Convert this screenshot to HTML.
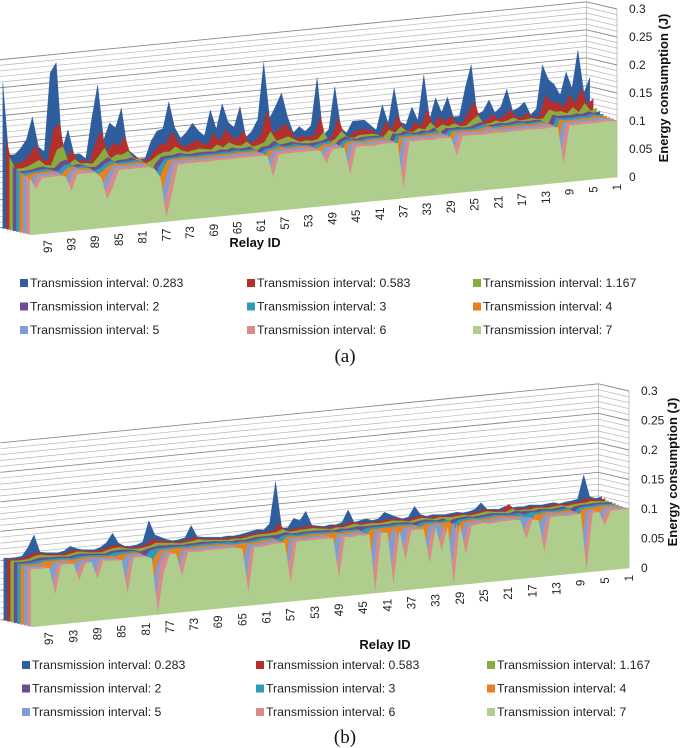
<!DOCTYPE html>
<html><head><meta charset="utf-8"><style>
html,body{margin:0;padding:0;background:#fff;}
svg{display:block;font-family:"Liberation Sans",sans-serif;}
</style></head><body>
<svg id="c" width="685" height="748" viewBox="0 0 685 748"></svg>
<script>
const relayIds = Array.from({length:100},(_,i)=>i+1);
const seriesNames = ["Transmission interval: 0.283","Transmission interval: 0.583","Transmission interval: 1.167","Transmission interval: 2","Transmission interval: 3","Transmission interval: 4","Transmission interval: 5","Transmission interval: 6","Transmission interval: 7"];
const yTicks = [0,0.05,0.1,0.15,0.2,0.25,0.3];
const yTickLabels = ["0","0.05","0.1","0.15","0.2","0.25","0.3"];
const xTickRelays = [1,5,9,13,17,21,25,29,33,37,41,45,49,53,57,61,65,69,73,77,81,85,89,93,97];

// Panel (a) values, index 0 = relay 1
const a_t0283=[.166,.14,.217,.15,.18,.14,.16,.17,.197,.12,.11,.134,.125,.12,.16,.13,.12,.144,.125,.12,.21,.17,.12,.12,.156,.13,.157,.12,.2,.12,.145,.115,.12,.182,.12,.154,.11,.12,.13,.13,.13,.11,.12,.195,.12,.11,.214,.13,.12,.13,.12,.15,.193,.17,.15,.25,.15,.13,.12,.176,.14,.15,.184,.14,.175,.13,.14,.155,.14,.13,.15,.197,.15,.147,.13,.1,.1,.11,.12,.194,.16,.17,.14,.24,.18,.11,.12,.12,.165,.13,.287,.27,.13,.14,.194,.155,.14,.13,.13,.26];
const a_t0583=[.13,.12,.15,.125,.14,.12,.13,.13,.145,.11,.105,.115,.11,.11,.125,.115,.11,.12,.11,.11,.145,.13,.11,.11,.125,.115,.125,.11,.14,.11,.12,.105,.11,.135,.11,.125,.1,.11,.115,.115,.115,.105,.11,.14,.11,.1,.145,.115,.11,.115,.11,.125,.14,.13,.125,.165,.125,.115,.11,.135,.12,.125,.14,.12,.135,.115,.12,.125,.12,.115,.125,.145,.125,.125,.115,.1,.1,.105,.11,.145,.13,.135,.12,.16,.135,.105,.11,.11,.13,.115,.18,.17,.115,.12,.145,.13,.12,.115,.115,.16];
const a_t1167=[.115,.11,.125,.11,.12,.11,.115,.115,.12,.105,.105,.108,.106,.106,.112,.108,.106,.11,.106,.106,.122,.115,.106,.106,.112,.108,.112,.106,.118,.106,.11,.104,.106,.116,.106,.112,.1,.106,.108,.108,.108,.104,.106,.118,.106,.1,.12,.108,.106,.108,.106,.112,.118,.115,.112,.13,.112,.108,.106,.116,.11,.112,.118,.11,.116,.108,.11,.112,.11,.108,.112,.12,.112,.112,.108,.1,.095,.104,.106,.12,.115,.116,.11,.13,.116,.104,.106,.106,.115,.108,.14,.135,.108,.11,.12,.115,.11,.108,.108,.13];
const a_t2=[.11,.108,.112,.108,.11,.108,.109,.109,.112,.09,.105,.106,.105,.105,.108,.106,.105,.107,.105,.105,.112,.109,.105,.105,.107,.106,.107,.1,.11,.105,.107,.104,.105,.109,.105,.107,.08,.105,.106,.106,.106,.104,.105,.11,.105,.095,.11,.106,.105,.104,.105,.107,.11,.108,.107,.115,.107,.106,.1,.109,.107,.107,.11,.107,.109,.106,.107,.107,.107,.106,.107,.11,.107,.107,.106,.095,.07,.1,.104,.11,.108,.108,.106,.115,.108,.1,.1,.104,.108,.106,.118,.115,.105,.106,.11,.108,.106,.105,.105,.115];
const a_t3=[.107,.106,.109,.106,.107,.106,.106,.106,.108,.08,.104,.105,.104,.104,.106,.105,.104,.105,.104,.104,.109,.107,.104,.104,.105,.105,.105,.095,.107,.104,.105,.103,.104,.106,.104,.105,.07,.104,.105,.105,.105,.103,.104,.107,.104,.09,.107,.105,.104,.1,.104,.105,.107,.106,.105,.11,.105,.104,.095,.106,.105,.105,.107,.105,.106,.105,.105,.105,.105,.104,.105,.107,.105,.105,.104,.09,.06,.098,.103,.107,.106,.106,.105,.11,.106,.098,.095,.103,.106,.105,.112,.11,.1,.104,.107,.106,.105,.104,.103,.11];
const a_t4=[.105,.104,.107,.104,.105,.104,.104,.104,.106,.07,.103,.104,.103,.103,.104,.104,.103,.104,.103,.103,.107,.105,.103,.103,.104,.104,.104,.09,.105,.103,.104,.102,.103,.104,.103,.104,.06,.103,.104,.104,.104,.102,.103,.105,.103,.085,.105,.104,.103,.097,.103,.104,.105,.104,.104,.107,.104,.103,.09,.104,.104,.104,.105,.104,.104,.104,.104,.104,.104,.103,.104,.105,.104,.104,.103,.085,.05,.096,.102,.105,.104,.104,.104,.107,.104,.095,.09,.101,.104,.104,.108,.107,.095,.103,.105,.104,.104,.103,.1,.107];
const a_t5=[.104,.103,.105,.103,.104,.103,.103,.103,.104,.05,.102,.103,.102,.102,.103,.103,.102,.103,.102,.102,.105,.104,.102,.102,.103,.103,.103,.08,.104,.102,.103,.101,.102,.103,.102,.103,.04,.102,.103,.103,.103,.101,.102,.104,.102,.07,.104,.103,.102,.09,.102,.103,.104,.103,.103,.105,.103,.102,.08,.103,.103,.103,.104,.103,.103,.103,.103,.103,.103,.102,.103,.104,.103,.103,.102,.07,.03,.09,.1,.104,.103,.103,.103,.105,.103,.085,.07,.098,.103,.103,.106,.105,.085,.102,.104,.103,.103,.102,.09,.105];
const a_t6=[.103,.102,.104,.102,.103,.102,.102,.102,.103,.04,.101,.102,.101,.101,.102,.102,.101,.102,.101,.101,.104,.103,.101,.101,.102,.102,.102,.075,.103,.101,.102,.1,.101,.102,.101,.102,.03,.101,.102,.102,.102,.1,.101,.103,.101,.06,.103,.102,.101,.085,.101,.102,.103,.102,.102,.104,.102,.101,.07,.102,.102,.102,.103,.102,.102,.102,.102,.102,.102,.101,.102,.103,.102,.102,.101,.06,.02,.085,.098,.103,.102,.102,.102,.104,.102,.08,.06,.095,.102,.102,.105,.104,.08,.1,.103,.102,.102,.101,.085,.104];
const a_t7=[.1,.1,.101,.1,.1,.1,.1,.1,.1,.03,.099,.1,.099,.099,.1,.1,.099,.1,.099,.099,.1,.1,.099,.099,.1,.1,.1,.065,.1,.099,.1,.098,.099,.1,.099,.1,.015,.099,.1,.1,.1,.098,.099,.1,.099,.05,.1,.1,.099,.075,.099,.1,.1,.1,.1,.1,.1,.099,.06,.1,.1,.1,.1,.1,.1,.1,.1,.1,.1,.099,.1,.1,.1,.1,.099,.05,.005,.08,.096,.1,.1,.1,.1,.1,.1,.07,.05,.09,.1,.1,.1,.1,.07,.098,.1,.1,.1,.099,.08,.1];

// Panel (b) values
const b_t0283=[.11,.108,.112,.15,.11,.108,.107,.105,.108,.107,.106,.107,.108,.106,.107,.106,.11,.106,.107,.108,.12,.11,.107,.106,.108,.107,.106,.107,.108,.106,.11,.125,.108,.106,.11,.115,.12,.11,.108,.112,.11,.108,.13,.11,.107,.108,.106,.108,.11,.135,.12,.125,.11,.11,.19,.12,.11,.112,.11,.108,.106,.105,.106,.105,.106,.107,.108,.11,.13,.11,.108,.107,.11,.115,.12,.145,.11,.106,.105,.106,.112,.13,.115,.108,.105,.106,.107,.11,.115,.108,.106,.107,.108,.11,.14,.12,.106,.105,.105,.106];
const b_t0583=[.108,.107,.109,.112,.108,.107,.106,.105,.107,.106,.105,.106,.107,.105,.106,.105,.115,.105,.106,.107,.11,.108,.106,.105,.107,.106,.105,.106,.107,.105,.108,.11,.107,.105,.108,.109,.11,.108,.107,.108,.108,.107,.112,.108,.106,.107,.105,.107,.108,.112,.11,.11,.108,.108,.12,.11,.108,.109,.108,.107,.105,.104,.105,.104,.105,.106,.107,.108,.112,.108,.107,.106,.108,.11,.112,.115,.107,.105,.104,.105,.108,.112,.11,.107,.104,.105,.106,.108,.11,.107,.105,.106,.107,.108,.112,.11,.105,.104,.104,.105];
const b_t1167=[.106,.106,.107,.108,.106,.106,.105,.104,.106,.105,.104,.105,.106,.104,.105,.104,.108,.104,.105,.106,.108,.107,.105,.104,.106,.105,.104,.105,.106,.104,.106,.108,.106,.104,.106,.107,.108,.107,.106,.107,.107,.106,.109,.107,.105,.106,.104,.106,.107,.109,.108,.108,.107,.107,.112,.108,.107,.107,.107,.106,.104,.103,.104,.103,.104,.105,.106,.107,.109,.107,.106,.105,.107,.108,.109,.11,.106,.104,.103,.104,.106,.109,.108,.106,.103,.104,.105,.107,.108,.106,.104,.105,.106,.107,.109,.108,.104,.103,.103,.104];
const b_t2=[.105,.105,.106,.106,.105,.105,.104,.1,.105,.104,.103,.104,.105,.103,.104,.104,.106,.103,.104,.105,.106,.105,.104,.103,.105,.104,.103,.1,.105,.103,.105,.106,.105,.103,.105,.105,.106,.105,.105,.105,.105,.105,.106,.105,.104,.105,.103,.105,.105,.106,.106,.106,.105,.105,.108,.106,.105,.105,.105,.105,.103,.102,.103,.102,.103,.104,.105,.105,.106,.105,.105,.104,.105,.106,.106,.107,.105,.103,.1,.103,.105,.106,.106,.105,.102,.103,.104,.105,.106,.105,.103,.104,.105,.105,.106,.106,.103,.102,.102,.103];
const b_t3=[.104,.104,.105,.105,.104,.104,.103,.095,.104,.103,.102,.103,.104,.102,.103,.1,.104,.102,.103,.104,.105,.104,.103,.102,.104,.103,.102,.095,.104,.102,.104,.104,.104,.1,.104,.104,.105,.104,.104,.104,.104,.104,.1,.104,.103,.104,.102,.104,.104,.104,.105,.105,.104,.104,.106,.105,.1,.104,.104,.104,.102,.101,.102,.101,.103,.103,.104,.104,.104,.104,.104,.103,.104,.104,.104,.104,.104,.102,.09,.102,.104,.104,.104,.104,.101,.102,.103,.104,.104,.104,.102,.103,.104,.104,.104,.104,.102,.101,.101,.102];
const b_t4=[.103,.103,.104,.104,.103,.103,.102,.09,.103,.102,.101,.102,.103,.101,.1,.07,.1,.101,.102,.103,.104,.103,.102,.101,.103,.102,.101,.09,.103,.101,.103,.102,.103,.098,.103,.103,.104,.103,.103,.103,.103,.103,.095,.103,.102,.103,.101,.103,.103,.103,.104,.104,.103,.103,.104,.104,.095,.103,.103,.103,.101,.1,.101,.1,.1,.102,.103,.103,.103,.103,.103,.102,.103,.103,.103,.103,.103,.09,.02,.1,.103,.103,.103,.1,.101,.101,.102,.103,.103,.103,.101,.102,.103,.103,.103,.103,.1,.1,.1,.101];
const b_t5=[.102,.102,.103,.103,.09,.102,.101,.01,.102,.101,.1,.101,.102,.1,.08,.098,.099,.1,.101,.102,.103,.102,.101,.1,.102,.101,.1,.07,.102,.05,.102,.101,.102,.05,.102,.102,.103,.09,.102,.07,.102,.102,.03,.102,.101,.102,.1,.102,.08,.102,.103,.103,.102,.102,.103,.103,.04,.102,.102,.102,.1,.099,.1,.06,.099,.101,.102,.102,.102,.102,.102,.101,.102,.102,.06,.102,.102,.08,.03,.098,.102,.102,.102,.09,.1,.1,.101,.102,.102,.102,.1,.095,.102,.102,.102,.09,.099,.099,.099,.1];
const b_t6=[.101,.101,.102,.102,.085,.101,.1,.005,.101,.1,.099,.1,.101,.099,.05,.097,.098,.075,.1,.101,.102,.101,.1,.099,.101,.1,.099,.06,.101,.01,.101,.07,.101,.05,.101,.101,.102,.06,.101,.02,.101,.101,.01,.101,.1,.101,.099,.101,.04,.101,.102,.102,.101,.101,.102,.102,.05,.101,.101,.101,.099,.098,.099,.03,.098,.1,.101,.101,.101,.101,.101,.1,.101,.101,.07,.101,.101,.085,.01,.097,.101,.101,.101,.05,.099,.099,.1,.101,.075,.101,.099,.08,.101,.101,.101,.06,.098,.098,.098,.099];
const b_t7=[.1,.1,.1,.1,.075,.1,.099,0,.1,.099,.098,.099,.1,.098,.04,.096,.097,.065,.099,.1,.1,.1,.099,.098,.1,.099,.098,.05,.1,0,.1,.06,.1,.04,.1,.1,.1,.05,.1,.01,.1,.1,0,.1,.099,.1,.098,.1,.03,.1,.1,.1,.1,.1,.1,.1,.03,.1,.1,.1,.098,.097,.098,.02,.097,.099,.1,.1,.1,.1,.1,.099,.1,.1,.06,.1,.1,.07,0,.096,.1,.1,.1,.04,.098,.098,.099,.1,.07,.1,.098,.07,.1,.1,.1,.05,.097,.097,.097,.098];

const colors=["#2F5E9E","#B3302D","#86AD3E","#6B4D8F","#2F9BB7","#E8801F","#7E9ED3","#D98A89","#AFCD8C"];
const NS="http://www.w3.org/2000/svg";
const svg=document.getElementById('c');
function mk(tag,attrs,parent){const e=document.createElementNS(NS,tag);for(const k in attrs)e.setAttribute(k,attrs[k]);(parent||svg).appendChild(e);return e;}

function drawPanel(cfg, series, tag){
  const g=mk('g',{});
  
  
  const X=(r,d)=>cfg.xl+(100-r)/99*(cfg.xr-cfg.xl)+d*cfg.dx;
  const B=(r,d)=>cfg.yl+(100-r)/99*(cfg.yr-cfg.yl)+d*cfg.dy;
  const Y=(v,r,d)=>B(r,d)-v*cfg.k;
  // back wall gridlines
  for(let i=0;i<=30;i++){
    const v=i*0.01;
    const major=(i%5===0);
    const ln=mk('polyline',{points:`${X(100,9)},${Y(v,100,9)} ${X(1,9)},${Y(v,1,9)} ${cfg.xr},${Y(v,1,0)}`,fill:'none',stroke:major?'#8a8a8a':'#b5b5b5','stroke-width':major?0.9:0.7},g);
    
    
  }
  mk('line',{x1:X(1,9),y1:Y(0,1,9),x2:X(1,9),y2:Y(0.3,1,9),stroke:'#aaa','stroke-width':0.7},g);
  mk('line',{x1:cfg.xr,y1:Y(0,1,0),x2:cfg.xr,y2:Y(0.3,1,0),stroke:'#aaa','stroke-width':0.7},g);
  // series, back to front
  series.forEach((vals,i)=>{
    const d=8-i;
    let pts=`${X(100,d)},${B(100,d)} `;
    relayIds.slice().reverse().forEach(r=>{pts+=`${X(r,d).toFixed(1)},${Y(vals[r-1],r,d).toFixed(1)} `;});
    pts+=`${X(1,d)},${B(1,d)}`;
    const p=mk('polygon',{points:pts,fill:colors[i],stroke:colors[i],'stroke-width':0.4,'stroke-linejoin':'round'},g);
    
    
  });
  // y ticks
  yTicks.forEach((v,i)=>{
    const t=mk('text',{x:cfg.xr+12,y:Y(v,1,0)+4,'font-size':12,fill:'#222'},g);
    t.textContent=yTickLabels[i];
    
    
  });
  // x ticks
  xTickRelays.forEach(r=>{
    const x=X(r,0)+4, y=B(r,0)+7;
    const t=mk('text',{x:x,y:y,'font-size':11.5,fill:'#222','text-anchor':'end',transform:`rotate(-90 ${x} ${y})`},g);
    t.textContent=String(r);
    
    
  });
  const xt=mk('text',{x:cfg.rx,y:cfg.ry,'font-size':13,'font-weight':'bold','text-anchor':'middle',fill:'#111'},g);
  xt.textContent='Relay ID';
  
  
  const yt=mk('text',{x:cfg.ax,y:cfg.ay,'font-size':13,'font-weight':'bold','text-anchor':'middle',fill:'#111',transform:`rotate(-90 ${cfg.ax} ${cfg.ay})`},g);
  yt.textContent='Energy consumption (J)';
  
  
  // legend
  seriesNames.forEach((n,i)=>{
    const col=i%3,row=Math.floor(i/3);
    const lx=cfg.lx[col], ly=cfg.ly+row*23.5;
    const sq=mk('rect',{x:lx,y:ly-8,width:8,height:8,fill:colors[i]},g);
    
    
    const t=mk('text',{x:lx+10,y:ly,'font-size':12.3,fill:'#222'},g);
    t.textContent=n;
    
    
  });
  const cap=mk('text',{x:345,y:cfg.cy,'font-size':19,'text-anchor':'middle','font-family':'Liberation Serif, serif',fill:'#111'},g);
  cap.textContent=tag==='a'?'(a)':'(b)';
  
  
}

drawPanel({xl:30,yl:235,xr:617,yr:177,k:560,dx:-3.4,dy:-0.8,rx:255,ry:247,ax:668,ay:88,lx:[20,247,473],ly:287,cy:362},
  [a_t0283,a_t0583,a_t1167,a_t2,a_t3,a_t4,a_t5,a_t6,a_t7],'a');
drawPanel({xl:31,yl:627,xr:629,yr:568,k:590,dx:-3.4,dy:-0.8,rx:385,ry:649,ax:677,ay:472,lx:[22,256,487],ly:669,cy:743},
  [b_t0283,b_t0583,b_t1167,b_t2,b_t3,b_t4,b_t5,b_t6,b_t7],'b');
</script>
</body></html>
